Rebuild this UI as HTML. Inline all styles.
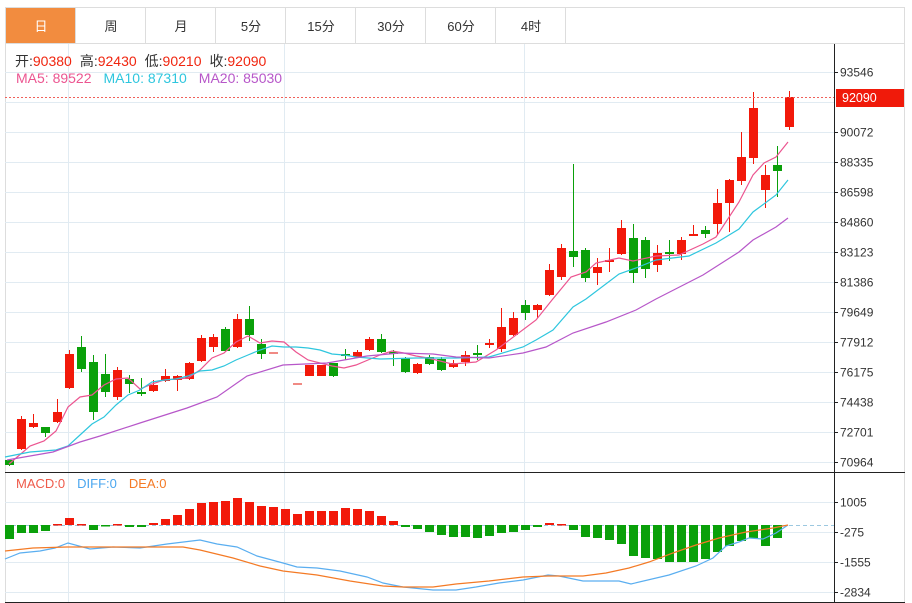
<!DOCTYPE html>
<html><head><meta charset="utf-8"><style>
body{margin:0;background:#fff;width:912px;height:603px;overflow:hidden}
svg{display:block;font-family:"Liberation Sans","Noto Sans CJK SC",sans-serif}
</style></head><body>
<svg id="s" width="912" height="603" viewBox="0 0 912 603">
<rect x="5.5" y="7.5" width="899" height="595" fill="#fff" stroke="#ddd"/>
<g id="tabs"></g>
<line x1="5" y1="43.5" x2="905" y2="43.5" stroke="#ddd"/>
<g id="grid" stroke="#e1ebf2" stroke-width="1"></g>
<g id="main"></g>
<line x1="834.5" y1="44" x2="834.5" y2="602" stroke="#222"/>
<line x1="5" y1="472.5" x2="905" y2="472.5" stroke="#222"/>
<line x1="5" y1="602.5" x2="905" y2="602.5" stroke="#222"/>
<line x1="5" y1="97.5" x2="834" y2="97.5" stroke="#f0605a" stroke-dasharray="2,2"/>
<rect x="836" y="89" width="68" height="18" fill="#f01a0a"/>
<text x="842" y="102" font-size="12.5" fill="#fff">92090</text>
<text x="15" y="66" font-size="14"><tspan fill="#333">开:</tspan><tspan fill="#f0250f">90380</tspan><tspan fill="#333" dx="8">高:</tspan><tspan fill="#f0250f">92430</tspan><tspan fill="#333" dx="8">低:</tspan><tspan fill="#f0250f">90210</tspan><tspan fill="#333" dx="8">收:</tspan><tspan fill="#f0250f">92090</tspan></text>
<text x="16" y="83" font-size="14"><tspan fill="#ec5590">MA5: 89522</tspan><tspan fill="#2ec6de" dx="12">MA10: 87310</tspan><tspan fill="#b757c9" dx="12">MA20: 85030</tspan></text>
<text x="16" y="488" font-size="13"><tspan fill="#ef5a4a">MACD:0</tspan><tspan fill="#4aa6ef" dx="12">DIFF:0</tspan><tspan fill="#f47a25" dx="12">DEA:0</tspan></text>
</svg>
<script>
var NS="http://www.w3.org/2000/svg";
function el(p,t,a,txt){var e=document.createElementNS(NS,t);for(var k in a)e.setAttribute(k,a[k]);if(txt!=null)e.textContent=txt;p.appendChild(e);return e;}
var tabs=document.getElementById('tabs');
var names=["日","周","月","5分","15分","30分","60分","4时"];
names.forEach(function(n,i){var x=6+i*70;
 if(i==0)el(tabs,'rect',{x:x,y:8,width:69,height:35,fill:'#f28c3f'});
 el(tabs,'line',{x1:x+69.5,y1:8,x2:x+69.5,y2:43,stroke:'#ddd'});
 el(tabs,'text',{x:x+35,y:31,'font-size':13,'text-anchor':'middle',fill:i==0?'#fff':'#333'},n);});
var g=document.getElementById('grid');
var labs=["93546","","90072","88335","86598","84860","83123","81386","79649","77912","76175","74438","72701","70964"];
for(var i=0;i<14;i++){var y=72+i*30;el(g,'line',{x1:5,y1:y+.5,x2:834,y2:y+.5});
 if(labs[i]){el(g,'line',{x1:834,y1:y+.5,x2:838,y2:y+.5,stroke:'#222'});el(document.getElementById('s'),'text',{x:840,y:y+4.5,'font-size':12,fill:'#333'},labs[i]);}}
var ml=["1005","-275","-1555","-2834"];
for(var i=0;i<4;i++){var y=502+i*30;el(g,'line',{x1:5,y1:y+.5,x2:834,y2:y+.5});el(g,'line',{x1:834,y1:y+.5,x2:838,y2:y+.5,stroke:'#222'});el(document.getElementById('s'),'text',{x:840,y:y+4.5,'font-size':12,fill:'#333'},ml[i]);}
[68,284,524].forEach(function(x){el(g,'line',{x1:x+.5,y1:44,x2:x+.5,y2:602});});
var m=document.getElementById('main');
el(m,'line',{x1:5,y1:525.5,x2:834,y2:525.5,stroke:'#9cc8e0','stroke-dasharray':'4,3'});
var C=[[9,'g',460,465,459,466],[21,'r',419,449,416,450],[33,'r',423,427,414,428],[45,'g',427,433,427,437],[57,'r',412,422,399,423],[69,'r',354,388,350,389],[81,'g',347,369,336,372],[93,'g',362,412,355,420],[105,'g',374,392,354,397],[117,'r',370,397,367,400],[129,'g',379,384,375,393],[141,'g',392,394,378,396],[153,'r',385,391,380,392],[165,'r',376,381,369,382],[177,'r',376,380,375,391],[189,'r',363,379,362,380],[201,'r',338,361,335,362],[213,'r',337,347,334,352],[225,'g',329,351,327,352],[237,'r',319,347,314,348],[249,'g',319,335,306,341],[261,'g',344,354,339,359],[273,'p',352,354,352,354],[297,'p',383,385,383,385],[309,'r',365,376,365,376],[321,'r',365,376,365,376],[333,'g',363,376,363,377],[345,'g',354,356,349,360],[357,'r',352,357,350,357],[369,'r',339,350,337,351],[381,'g',339,352,334,353],[393,'g',352,354,350,366],[405,'g',358,372,357,373],[417,'r',364,373,363,374],[429,'g',357,364,355,365],[441,'g',359,370,357,371],[453,'r',363,367,360,368],[465,'r',355,362,351,366],[477,'g',353,355,345,360],[489,'r',343,345,339,348],[501,'r',327,349,308,352],[513,'r',318,335,312,336],[525,'g',305,313,300,320],[537,'r',305,310,304,318],[549,'r',270,295,264,296],[561,'r',248,277,244,280],[573,'g',251,257,164,267],[585,'g',250,278,248,282],[597,'r',267,273,258,285],[609,'r',260,262,248,272],[621,'r',228,254,220,255],[633,'g',238,273,224,283],[645,'g',240,269,237,278],[657,'r',253,265,245,272],[669,'g',252,254,240,261],[681,'r',240,254,237,260],[693,'r',234,236,225,236],[705,'g',230,234,226,238],[717,'r',203,224,189,235],[729,'r',180,203,179,232],[741,'r',157,181,132,185],[753,'r',108,158,92,164],[765,'r',175,190,165,208],[777,'g',165,171,146,197],[789,'r',97,127,91,130]];
C.forEach(function(c){var col=c[1]=='r'?'#f2190a':c[1]=='g'?'#0aa00a':'#f08a84';
 el(m,'line',{x1:c[0]+.5,y1:c[4],x2:c[0]+.5,y2:c[5],stroke:col});
 el(m,'rect',{x:c[0]-4,y:c[2],width:9,height:Math.max(2,c[3]-c[2]),fill:col});});
function pl(pts,col){el(m,'polyline',{points:pts.map(function(p){return p.join(',')}).join(' '),fill:'none',stroke:col,'stroke-width':1.2});}
pl([[9,464],[30,446],[44,441],[56,431],[68,407],[80,397],[92,395],[104,385],[116,379],[128,378],[140,389],[152,384],[164,380],[176,379],[188,378],[200,370],[212,358],[224,353],[236,342],[248,336],[260,343],[272,341],[284,342],[296,352],[308,360],[320,363],[332,366],[344,368],[356,365],[368,360],[380,355],[392,351],[404,353],[416,356],[428,358],[440,361],[452,364],[464,363],[476,362],[496,350],[536,320],[552,300],[571,277],[586,272],[596,263],[619,258],[633,261],[656,256],[679,255],[703,244],[716,237],[739,202],[753,175],[764,163],[776,157],[788,142]],'#ec5590');
pl([[5,457],[30,452],[56,450],[68,446],[80,435],[92,424],[104,417],[116,405],[128,395],[140,390],[152,382],[164,380],[176,379],[188,376],[200,371],[212,370],[224,366],[236,360],[248,355],[260,350],[272,346],[284,347],[296,347],[308,348],[320,350],[332,354],[344,355],[356,357],[380,359],[416,358],[456,358],[489,357],[523,347],[536,340],[553,330],[573,307],[586,299],[619,274],[636,268],[656,260],[689,256],[716,243],[739,229],[753,212],[776,195],[788,180]],'#2ec6de');
pl([[7,460],[53,452],[80,442],[100,436],[140,423],[187,408],[217,397],[247,376],[283,365],[327,363],[367,356],[400,353],[433,354],[456,357],[489,358],[523,353],[546,347],[573,333],[606,322],[636,310],[656,299],[703,275],[739,252],[753,240],[776,227],[788,218]],'#b757c9');
var B=[539,533,533,531,524,518,524,530,526,524,527,527,523,519,515,509,503,502,501,498,502,506,507,509,514,511,511,511,508,509,511,516,521,527,529,532,535,537,537,538,536,533,532,530,527,523,524,530,537,538,540,544,556,558,559,562,562,562,559,552,546,541,538,546,538];
B.forEach(function(b,i){var x=9+i*12;var col=b<525?'#f2190a':'#0aa00a';var y=Math.min(b,525),h=Math.max(1.5,Math.abs(b-525));el(m,'rect',{x:x-4,y:y,width:9,height:h,fill:col});});
pl([[5,559],[20,553],[40,551],[55,548],[68,543],[90,549],[113,547],[140,548],[167,544],[200,540],[217,544],[237,547],[257,556],[283,563],[297,567],[317,568],[340,571],[367,577],[383,583],[403,587],[433,590],[456,590],[476,587],[499,583],[523,580],[548,575],[559,576],[583,581],[619,581],[631,584],[669,575],[696,566],[713,558],[726,546],[739,542],[749,538],[763,539],[776,533],[788,525]],'#5aaef0');
pl([[5,551],[33,548],[67,547],[117,547],[150,547],[183,547],[200,550],[233,558],[260,566],[283,571],[317,575],[350,581],[383,586],[403,587],[433,587],[456,584],[489,581],[523,577],[548,576],[583,576],[606,573],[629,568],[649,562],[673,553],[696,545],[719,538],[746,532],[773,528],[788,525]],'#f47a25');
</script>
</body></html>
